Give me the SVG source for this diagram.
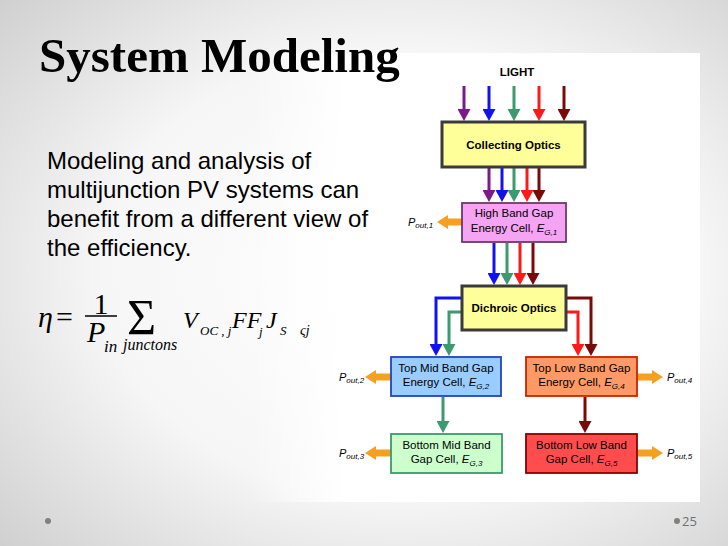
<svg xmlns="http://www.w3.org/2000/svg" width="728" height="546" viewBox="0 0 728 546">
<defs>
<radialGradient id="bg" cx="0.55" cy="0.5" r="0.75">
<stop offset="0" stop-color="#ffffff"/>
<stop offset="0.55" stop-color="#f6f6f6"/>
<stop offset="1" stop-color="#cfcfcf"/>
</radialGradient>
<linearGradient id="panel" gradientUnits="userSpaceOnUse" x1="250" y1="0" x2="345" y2="0">
<stop offset="0" stop-color="#ffffff" stop-opacity="0"/>
<stop offset="1" stop-color="#ffffff" stop-opacity="1"/>
</linearGradient>
<marker id="mPurple" markerUnits="userSpaceOnUse" markerWidth="12" markerHeight="13" refX="2" refY="6.5" orient="auto"><path d="M0,0 L12,6.5 L0,13 z" fill="#7a1a8c"/></marker>
<marker id="mBlue" markerUnits="userSpaceOnUse" markerWidth="12" markerHeight="13" refX="2" refY="6.5" orient="auto"><path d="M0,0 L12,6.5 L0,13 z" fill="#1212ee"/></marker>
<marker id="mGreen" markerUnits="userSpaceOnUse" markerWidth="12" markerHeight="13" refX="2" refY="6.5" orient="auto"><path d="M0,0 L12,6.5 L0,13 z" fill="#3c9a6e"/></marker>
<marker id="mRed" markerUnits="userSpaceOnUse" markerWidth="12" markerHeight="13" refX="2" refY="6.5" orient="auto"><path d="M0,0 L12,6.5 L0,13 z" fill="#ff1a1a"/></marker>
<marker id="mDark" markerUnits="userSpaceOnUse" markerWidth="12" markerHeight="13" refX="2" refY="6.5" orient="auto"><path d="M0,0 L12,6.5 L0,13 z" fill="#7a0a0a"/></marker>
</defs>
<style>
.sans{font-family:"Liberation Sans",Arial,sans-serif;fill:#000}
.lbl{font-size:11.5px;text-anchor:middle}
.bold{font-weight:bold}
.sub{font-size:8px;font-style:italic}
.it{font-style:italic}
.math{font-family:"Liberation Serif","Times New Roman",serif;fill:#000}
.c{fill:none;stroke-width:3}
.purple{stroke:#7a1a8c}
.blue{stroke:#1212ee}
.green{stroke:#3c9a6e}
.red{stroke:#ff1a1a}
.dark{stroke:#7a0a0a}
.orange{fill:#f5a023}
.optics{fill:#ffff99;stroke:#3a3a3a;stroke-width:3}
.cell{stroke-width:1.8}
</style>
<rect x="0" y="0" width="728" height="546" fill="url(#bg)"/>
<rect x="250" y="53" width="450" height="449" fill="url(#panel)"/>

<text x="39" y="72" class="math" font-size="49" font-weight="bold">System Modeling</text>

<g class="sans" font-size="24">
<text x="47" y="169">Modeling and analysis of</text>
<text x="47" y="198">multijunction PV systems can</text>
<text x="47" y="227">benefit from a different view of</text>
<text x="47" y="256">the efficiency.</text>
</g>

<g id="formula" class="math">
<text x="38" y="327" font-size="30" font-style="italic">η</text>
<text x="56" y="327" font-size="30">=</text>
<text x="101" y="314" font-size="30" text-anchor="middle">1</text>
<line x1="85" y1="316" x2="117" y2="316" stroke="#000" stroke-width="1.5"/>
<text x="87" y="342" font-size="30" font-style="italic">P</text>
<text x="104" y="352" font-size="17" font-style="italic">in</text>
<text x="127" y="334" font-size="50">Σ</text>
<text x="123" y="350" font-size="16" font-style="italic">junctons</text>
<text x="183" y="328" font-size="24" font-style="italic">V</text>
<text x="200" y="335" font-size="13" font-style="italic">OC , j</text>
<text x="232" y="328" font-size="24" font-style="italic">FF</text>
<text x="259" y="336" font-size="13" font-style="italic">j</text>
<text x="266" y="328" font-size="24" font-style="italic">J</text>
<text x="280" y="335" font-size="13" font-style="italic">S</text>
<text x="300" y="335" font-size="14" font-style="italic">ςj</text>
</g>

<text x="517" y="76" class="sans lbl bold">LIGHT</text>

<g id="connectors">
<line class="c purple" x1="464" y1="86" x2="464" y2="111" marker-end="url(#mPurple)"/>
<line class="c blue" x1="489" y1="86" x2="489" y2="111" marker-end="url(#mBlue)"/>
<line class="c green" x1="514" y1="86" x2="514" y2="111" marker-end="url(#mGreen)"/>
<line class="c red" x1="539" y1="86" x2="539" y2="111" marker-end="url(#mRed)"/>
<line class="c dark" x1="564" y1="86" x2="564" y2="111" marker-end="url(#mDark)"/>

<line class="c purple" x1="489" y1="168" x2="489" y2="192" marker-end="url(#mPurple)"/>
<line class="c blue" x1="502" y1="168" x2="502" y2="192" marker-end="url(#mBlue)"/>
<line class="c green" x1="514" y1="168" x2="514" y2="192" marker-end="url(#mGreen)"/>
<line class="c red" x1="527" y1="168" x2="527" y2="192" marker-end="url(#mRed)"/>
<line class="c dark" x1="539" y1="168" x2="539" y2="192" marker-end="url(#mDark)"/>

<line class="c blue" x1="494" y1="243" x2="494" y2="275" marker-end="url(#mBlue)"/>
<line class="c green" x1="507" y1="243" x2="507" y2="275" marker-end="url(#mGreen)"/>
<line class="c red" x1="520" y1="243" x2="520" y2="275" marker-end="url(#mRed)"/>
<line class="c dark" x1="533" y1="243" x2="533" y2="275" marker-end="url(#mDark)"/>

<path class="c blue" d="M462,298 H436 V346" marker-end="url(#mBlue)"/>
<path class="c green" d="M462,312 H449 V346" marker-end="url(#mGreen)"/>
<path class="c red" d="M566,312 H578 V346" marker-end="url(#mRed)"/>
<path class="c dark" d="M566,298 H591 V346" marker-end="url(#mDark)"/>

<line class="c green" x1="443" y1="397" x2="443" y2="423" marker-end="url(#mGreen)"/>
<line class="c dark" x1="585" y1="397" x2="585" y2="423" marker-end="url(#mDark)"/>

<polygon class="orange" points="437,222 448,215 448,218.5 462,218.5 462,225.5 448,225.5 448,229"/>
<polygon class="orange" points="365,377 376,370 376,373.5 391,373.5 391,380.5 376,380.5 376,384"/>
<polygon class="orange" points="365,453 376,446 376,449.5 391,449.5 391,456.5 376,456.5 376,460"/>
<polygon class="orange" points="663,377 652,370 652,373.5 637,373.5 637,380.5 652,380.5 652,384"/>
<polygon class="orange" points="663,453 652,446 652,449.5 637,449.5 637,456.5 652,456.5 652,460"/>
</g>

<g id="collecting">
<rect class="optics" x="442" y="122" width="143" height="45"/>
<text x="513.5" y="148.5" class="sans lbl bold">Collecting Optics</text>
</g>

<g id="highband">
<rect class="cell" x="462" y="203" width="104" height="39" fill="#f5a3f3" stroke="#6a3a6a"/>
<text x="514" y="217" class="sans lbl">High Band Gap</text>
<text x="514" y="232" class="sans lbl">Energy Cell, <tspan class="it">E</tspan><tspan class="sub" dy="3">G,1</tspan></text>
</g>

<g id="dichroic">
<rect class="optics" x="462" y="286" width="104" height="44"/>
<text x="514" y="312" class="sans lbl bold">Dichroic Optics</text>
</g>

<g id="topmid">
<rect class="cell" x="391" y="357" width="110" height="39" fill="#99ccff" stroke="#2244bb"/>
<text x="446" y="372" class="sans lbl">Top Mid Band Gap</text>
<text x="446" y="386" class="sans lbl">Energy Cell, <tspan class="it">E</tspan><tspan class="sub" dy="3">G,2</tspan></text>
</g>

<g id="toplow">
<rect class="cell" x="526" y="357" width="111" height="39" fill="#ff9966" stroke="#cc2200"/>
<text x="581.5" y="372" class="sans lbl">Top Low Band Gap</text>
<text x="581.5" y="386" class="sans lbl">Energy Cell, <tspan class="it">E</tspan><tspan class="sub" dy="3">G,4</tspan></text>
</g>

<g id="bottommid">
<rect class="cell" x="391" y="434" width="111" height="39" fill="#ccffcc" stroke="#3c9a6e"/>
<text x="446.5" y="449" class="sans lbl">Bottom Mid Band</text>
<text x="446.5" y="463" class="sans lbl">Gap Cell, <tspan class="it">E</tspan><tspan class="sub" dy="3">G,3</tspan></text>
</g>

<g id="bottomlow">
<rect class="cell" x="526" y="434" width="111" height="39" fill="#ff4d4d" stroke="#8b0000"/>
<text x="581.5" y="449" class="sans lbl">Bottom Low Band</text>
<text x="581.5" y="463" class="sans lbl">Gap Cell, <tspan class="it">E</tspan><tspan class="sub" dy="3">G,5</tspan></text>
</g>

<g id="pout" class="sans" font-size="11">
<text x="408" y="226" class="it">P<tspan class="sub" dy="2">out,1</tspan></text>
<text x="339" y="381" class="it">P<tspan class="sub" dy="2">out,2</tspan></text>
<text x="339" y="457" class="it">P<tspan class="sub" dy="2">out,3</tspan></text>
<text x="667" y="381" class="it">P<tspan class="sub" dy="2">out,4</tspan></text>
<text x="667" y="457" class="it">P<tspan class="sub" dy="2">out,5</tspan></text>
</g>

<circle cx="48" cy="521" r="3" fill="#808080"/>
<circle cx="677" cy="521" r="3" fill="#808080"/>
<text x="682" y="526" font-family="'Open Sans',sans-serif" font-size="13" fill="#707070">25</text>
</svg>
